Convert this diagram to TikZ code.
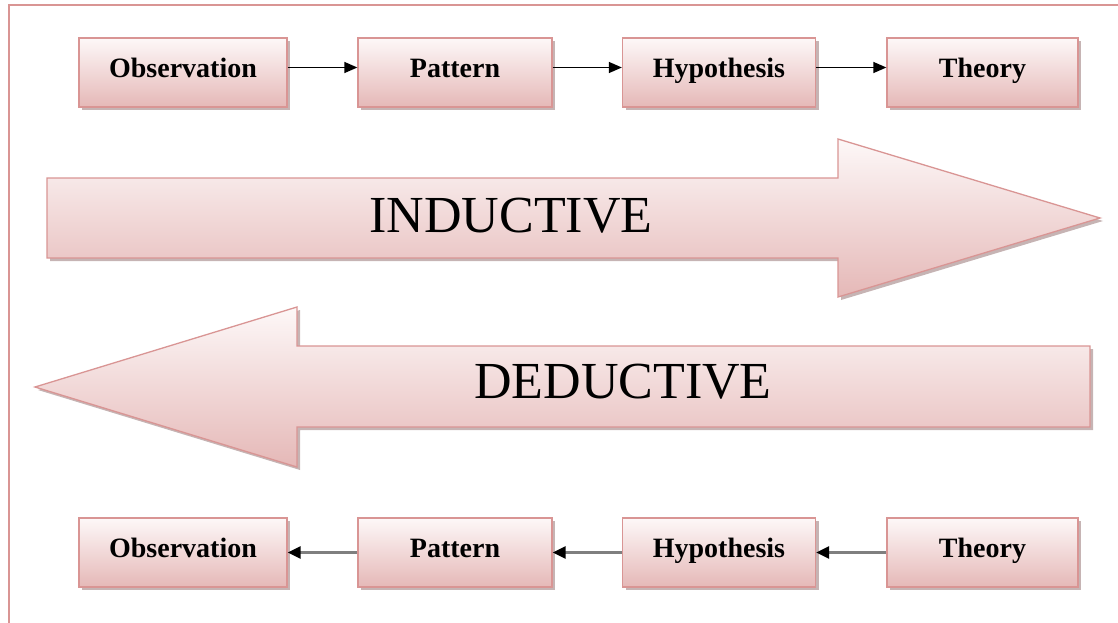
\documentclass[tikz,border=0pt]{standalone}
\usepackage{fontspec}
\setmainfont{Liberation Serif}
\usetikzlibrary{arrows.meta,shadows,calc}
\definecolor{rimc}{HTML}{D99594}
\definecolor{topc}{HTML}{FDF8F8}
\definecolor{botc}{HTML}{E5B8B7}
\definecolor{shadc}{HTML}{A08282}
\definecolor{linkgray}{HTML}{7F7F7F}
\tikzset{
  softshadow/.style={drop shadow={shadow xshift=3pt,shadow yshift=-3pt,opacity=0.6,fill=shadc}},
  stagebox/.style={draw=rimc,line width=1.3pt,top color=topc,bottom color=botc,
    softshadow,minimum height=69pt,inner sep=0pt,
    font=\fontsize{28}{30}\selectfont\bfseries,text height=19pt,text depth=9pt},
  bigarrow/.style={draw=rimc,line width=1.3pt,top color=topc,bottom color=botc,softshadow,line join=miter},
  bigword/.style={anchor=base,font=\fontsize{52}{56}\selectfont,inner sep=0pt},
  fwdlink/.style={black,line width=1.3pt,-{Triangle[length=13pt,width=11pt]}},
  backlink/.style={linkgray,line width=2.4pt,-{Triangle[length=13pt,width=12pt,color=black]}},
  frame/.style={rimc,line width=1.5pt}
}
\begin{document}
\begin{tikzpicture}[x=1pt,y=-1pt]
\useasboundingbox (0,0) rectangle (1118,623);
% page frame (top and left rules)
\draw[frame] (8,5) -- (1118,5);
\draw[frame] (9,5) -- (9,623);

% inductive chain
\node[stagebox,minimum width=208pt] (o1) at (183,72.5) {Observation};
\node[stagebox,minimum width=194pt] (p1) at (455,72.5) {Pattern};
\node[stagebox,minimum width=193pt] (h1) at (719,72.5) {Hypothesis};
\node[stagebox,minimum width=191pt] (t1) at (982.5,72.5) {Theory};
\draw[fwdlink] ([yshift=5pt]o1.east) -- ([yshift=5pt]p1.west);
\draw[fwdlink] ([yshift=5pt]p1.east) -- ([yshift=5pt]h1.west);
\draw[fwdlink] ([yshift=5pt]h1.east) -- ([yshift=5pt]t1.west);

% large block arrows
\path[bigarrow] (47,178) -- (838,178) -- (838,139) -- (1100,218) -- (838,297)
  -- (838,258) -- (47,258) -- cycle;
\node[bigword] (ind) at (511,232) {INDUCTIVE};
\path[bigarrow] (1090,346) -- (297,346) -- (297,307) -- (35,387) -- (297,467)
  -- (297,427) -- (1090,427) -- cycle;
\node[bigword] (ded) at (623,398) {DEDUCTIVE};

% deductive chain
\node[stagebox,minimum width=208pt] (o2) at (183,552.5) {Observation};
\node[stagebox,minimum width=194pt] (p2) at (455,552.5) {Pattern};
\node[stagebox,minimum width=193pt] (h2) at (719,552.5) {Hypothesis};
\node[stagebox,minimum width=191pt] (t2) at (982.5,552.5) {Theory};
\draw[backlink] (t2.west) -- (h2.east);
\draw[backlink] (h2.west) -- (p2.east);
\draw[backlink] (p2.west) -- (o2.east);
\end{tikzpicture}
\end{document}
